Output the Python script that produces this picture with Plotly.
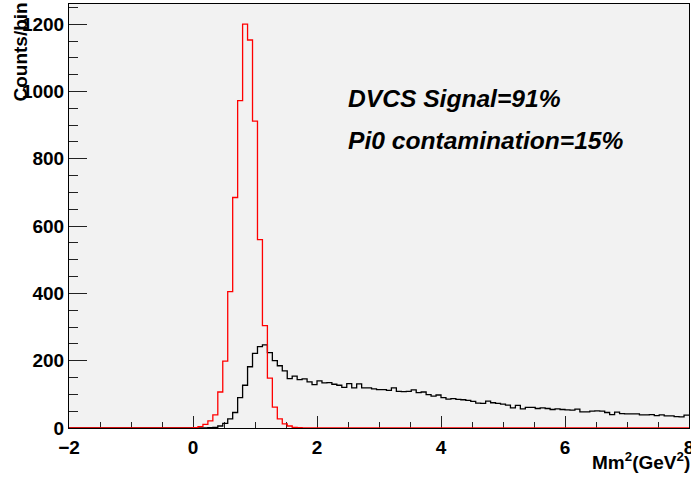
import plotly.graph_objects as go

# histogram binning: 125 bins of 0.08 from -2 to 8
x_min = -2.0
x_max = 8.0
bin_width = 0.08
n_bins = 125

# bin contents starting at Mm2 = 0 (bins below 0 are empty)
red_counts = [1, 4, 11, 21, 39, 107, 199, 405, 685, 973,
              1200, 1153, 912, 560, 304, 148, 62, 27, 12, 6,
              2, 1]

black_counts = [0, 0, 0, 1, 2, 6, 14, 27, 46, 90,
                127, 182, 222, 242, 247, 224, 200, 185, 170, 147,
                154, 144, 146, 137, 129, 140, 134, 135, 130, 127,
                121, 132, 119, 131, 119, 119, 116, 114, 114, 112,
                119, 109, 108, 109, 113, 105, 107, 99, 95, 98,
                90, 86, 87, 85, 84, 82, 79, 74, 73, 80,
                75, 73, 71, 68, 60, 67, 57, 61, 61, 58,
                60, 58, 55, 57, 55, 54, 53, 56, 48, 48,
                50, 51, 50, 46, 40, 47, 43, 42, 42, 42,
                39, 39, 40, 37, 39, 36, 36, 34, 33, 38]

text_lines = ["DVCS Signal=91%", "Pi0 contamination=15%"]


def full_hist(counts):
    n_neg = int(round(-x_min / bin_width))
    vals = [0] * n_neg + list(counts)
    vals = vals + [0] * (n_bins - len(vals))
    return vals


edges = [x_min + i * bin_width for i in range(n_bins + 1)]

fig = go.Figure()
for counts, color in [(black_counts, "black"), (red_counts, "red")]:
    vals = full_hist(counts)
    fig.add_trace(go.Scatter(
        x=edges,
        y=vals + [vals[-1]],
        mode="lines",
        line=dict(color=color, width=1.3, shape="hv"),
        showlegend=False,
    ))

font_bold = dict(family="Liberation Sans, Arial", size=19, color="black", weight="bold")

fig.update_layout(
    width=691,
    height=477,
    margin=dict(l=69, r=2, t=4, b=49),
    paper_bgcolor="white",
    plot_bgcolor="#f2f2f2",
    font=font_bold,
    xaxis=dict(
        range=[x_min, x_max],
        automargin=False,
        dtick=2,
        tick0=0,
        ticks="inside",
        ticklen=12,
        tickwidth=1,
        tickcolor="#222",
        minor=dict(ticks="inside", dtick=0.5, ticklen=6, tickcolor="#222"),
        showgrid=False,
        zeroline=False,
        showline=True,
        linecolor="black",
        linewidth=1,
        mirror=True,
        layer="below traces",
        ticklabelstandoff=2,
        ticklabeloverflow="allow",
        tickfont=font_bold,
    ),
    yaxis=dict(
        range=[0, 1260],
        automargin=False,
        dtick=200,
        ticks="inside",
        ticklen=18,
        tickwidth=1,
        tickcolor="#222",
        minor=dict(ticks="inside", dtick=50, ticklen=9, tickcolor="#222"),
        showgrid=False,
        zeroline=False,
        showline=True,
        linecolor="black",
        linewidth=1,
        mirror=True,
        ticklabeloverflow="allow",
        tickfont=font_bold,
    ),
)

# statistics text
for i, txt in enumerate(text_lines):
    fig.add_annotation(
        x=0.4516, y=0.778 - i * 0.099, xref="paper", yref="paper", xshift=-3,
        text=txt, showarrow=False, xanchor="left", yanchor="middle",
        font=dict(family="Liberation Sans, Arial", size=24.6, color="black",
                  weight="bold", style="italic"),
    )

# axis titles, placed ROOT-style at the axis ends
fig.add_annotation(
    x=1.0, y=-0.078, xref="paper", yref="paper", xshift=3,
    text="Mm<sup>2</sup>(GeV<sup>2</sup>)", showarrow=False,
    xanchor="right", yanchor="middle", font=font_bold,
)
fig.add_annotation(
    x=-0.079, y=1.0, xref="paper", yref="paper", yshift=3,
    text="Counts/bin", showarrow=False, textangle=-90,
    xanchor="center", yanchor="top", font=font_bold,
)

# drop the browser's default page margin so the figure sits at the corner
fig.write_html("out.html", config={"displayModeBar": False},
               post_script="document.body.style.margin = '0';")
